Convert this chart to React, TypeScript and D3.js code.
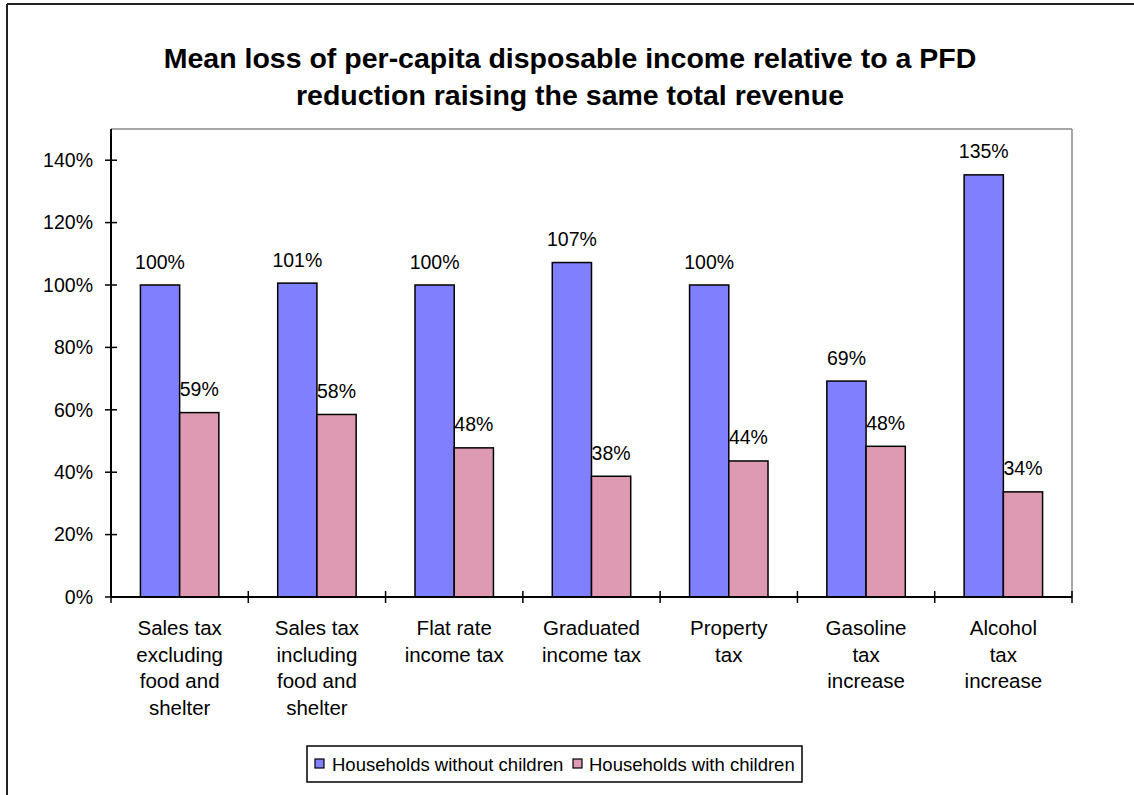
import React from "react";
import * as d3 from "d3";

const categories: string[][] = [
  ["Sales tax", "excluding", "food and", "shelter"],
  ["Sales tax", "including", "food and", "shelter"],
  ["Flat rate", "income tax"],
  ["Graduated", "income tax"],
  ["Property", "tax"],
  ["Gasoline", "tax", "increase"],
  ["Alcohol", "tax", "increase"],
];
const withoutChildren = [100, 100.6, 100, 107.2, 100, 69.2, 135.3];
const withChildren = [59.1, 58.5, 47.8, 38.7, 43.6, 48.3, 33.7];
const withoutLabels = ["100%", "101%", "100%", "107%", "100%", "69%", "135%"];
const withLabels = ["59%", "58%", "48%", "38%", "44%", "48%", "34%"];
const yTicks = [0, 20, 40, 60, 80, 100, 120, 140];
const seriesNames = ["Households without children", "Households with children"];
const titleLines = [
  "Mean loss of per-capita disposable income relative to a PFD",
  "reduction raising the same total revenue",
];

const W = 1134;
const H = 795;
const FONT = "'Liberation Sans', Arial, Helvetica, sans-serif";
const BLUE = "#8080FF";
const PINK = "#DE9AB3";

export default function App() {
  const plot = { left: 111, right: 1072, top: 129, bottom: 597 };
  const x = d3
    .scaleBand<number>()
    .domain(d3.range(categories.length))
    .range([plot.left, plot.right])
    .paddingInner(0)
    .paddingOuter(0);
  const y = d3.scaleLinear().domain([0, 150]).range([plot.bottom, plot.top]);
  const bw = x.bandwidth() / 3.5;
  const off = bw * 0.75;
  const fs = 19.5;

  const series = [
    { vals: withoutChildren, labels: withoutLabels, color: BLUE, dx: off },
    { vals: withChildren, labels: withLabels, color: PINK, dx: off + bw },
  ];

  return (
    <div style={{ position: "absolute", left: 0, top: 0 }}>
      <svg width={W} height={H} style={{ display: "block" }} fontFamily={FONT}>
        <rect x={0} y={0} width={W} height={H} fill="#fff" />
        {/* chart frame */}
        <line x1={7} y1={4} x2={W} y2={4} stroke="#222" strokeWidth={2} />
        <line x1={7} y1={4} x2={7} y2={H} stroke="#222" strokeWidth={2} />

        {titleLines.map((t, i) => (
          <text
            key={i}
            x={570}
            y={68 + i * 37}
            textAnchor="middle"
            fontSize={28.5}
            fontWeight="bold"
            fill="#000"
          >
            {t}
          </text>
        ))}

        {/* plot area border top/right */}
        <line x1={plot.left} y1={plot.top} x2={plot.right} y2={plot.top} stroke="#888" strokeWidth={1.5} />
        <line x1={plot.right} y1={plot.top} x2={plot.right} y2={plot.bottom} stroke="#888" strokeWidth={1.5} />

        {/* bars */}
        {series.map((s, si) =>
          s.vals.map((v, i) => (
            <rect
              key={`${si}-${i}`}
              x={(x(i) as number) + s.dx}
              y={y(v)}
              width={bw}
              height={y(0) - y(v)}
              fill={s.color}
              stroke="#000"
              strokeWidth={1.5}
            />
          ))
        )}
        {series.map((s, si) =>
          s.vals.map((v, i) => (
            <text
              key={`l${si}-${i}`}
              x={(x(i) as number) + s.dx + bw / 2}
              y={y(v) - 16.5}
              textAnchor="middle"
              fontSize={fs}
              fill="#000"
            >
              {s.labels[i]}
            </text>
          ))
        )}

        {/* y axis */}
        <line x1={plot.left} y1={plot.top} x2={plot.left} y2={plot.bottom} stroke="#000" strokeWidth={2} />
        {yTicks.map((t) => (
          <g key={t}>
            <line x1={plot.left - 6} x2={plot.left + 6} y1={y(t)} y2={y(t)} stroke="#000" strokeWidth={1.5} />
            <text x={93} y={y(t)} dy="0.35em" textAnchor="end" fontSize={fs} fill="#000">
              {t}%
            </text>
          </g>
        ))}

        {/* x axis */}
        <line x1={plot.left} y1={plot.bottom} x2={plot.right} y2={plot.bottom} stroke="#000" strokeWidth={2} />
        {d3.range(categories.length + 1).map((i) => {
          const xx = i < categories.length ? (x(i) as number) : plot.right;
          return (
            <line key={i} x1={xx} x2={xx} y1={plot.bottom - 6} y2={plot.bottom + 6} stroke="#000" strokeWidth={1.5} />
          );
        })}
        {categories.map((lines, i) => (
          <text
            key={i}
            x={(x(i) as number) + x.bandwidth() / 2}
            textAnchor="middle"
            fontSize={20.5}
            fill="#000"
          >
            {lines.map((ln, j) => (
              <tspan key={j} x={(x(i) as number) + x.bandwidth() / 2} y={635 + j * 26.7}>
                {ln}
              </tspan>
            ))}
          </text>
        ))}

        {/* legend */}
        <rect x={307} y={746} width={495} height={36} fill="#fff" stroke="#000" strokeWidth={1.5} />
        <rect x={315} y={759} width={9} height={9} fill={BLUE} stroke="#000" strokeWidth={1.2} />
        <text x={332} y={771} fontSize={18.5} fill="#000">
          {seriesNames[0]}
        </text>
        <rect x={573} y={759} width={9} height={9} fill={PINK} stroke="#000" strokeWidth={1.2} />
        <text x={589} y={771} fontSize={18.5} fill="#000">
          {seriesNames[1]}
        </text>
      </svg>
    </div>
  );
}
